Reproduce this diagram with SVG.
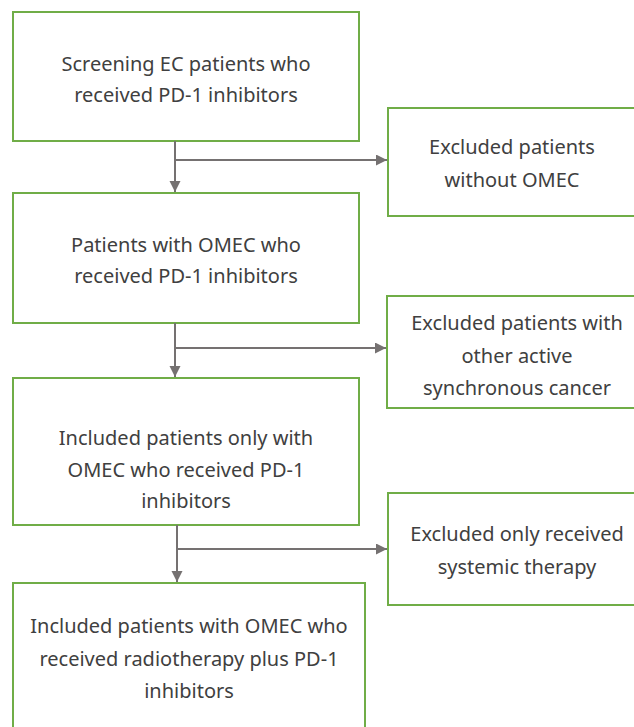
<svg xmlns="http://www.w3.org/2000/svg" width="634" height="727" viewBox="0 0 634 727">
<style>
.box{fill:#fff;stroke:#70AD47;stroke-width:2}
.t{font-family:"Noto Sans","Liberation Sans",sans-serif;font-size:20px;fill:#404040;text-anchor:middle;dominant-baseline:central}
.c{stroke:#757171;stroke-width:2;fill:none}
</style>
<defs>
<marker id="ah" markerWidth="12" markerHeight="12" refX="11" refY="5.5" orient="auto" markerUnits="userSpaceOnUse">
<path d="M0,0 L11,5.5 L0,11 Z" fill="#757171"/>
</marker>
</defs>
<rect width="634" height="727" fill="#fff"/>
<g id="n1"><rect class="box" x="13" y="12" width="346" height="129"/>
<text class="t" x="186" y="63">Screening EC patients who</text>
<text class="t" x="186" y="94">received PD-1 inhibitors</text></g>
<g id="n2"><rect class="box" x="388" y="108" width="260" height="108"/>
<text class="t" x="512" y="146">Excluded patients</text>
<text class="t" x="512" y="179">without OMEC</text></g>
<g id="n3"><rect class="box" x="13" y="193" width="346" height="130"/>
<text class="t" x="186" y="244">Patients with OMEC who</text>
<text class="t" x="186" y="275">received PD-1 inhibitors</text></g>
<g id="n4"><rect class="box" x="387" y="296" width="260" height="112"/>
<text class="t" x="517" y="322">Excluded patients with</text>
<text class="t" x="517" y="355">other active</text>
<text class="t" x="517" y="387">synchronous cancer</text></g>
<g id="n5"><rect class="box" x="13" y="378" width="346" height="147"/>
<text class="t" x="186" y="437">Included patients only with</text>
<text class="t" x="186" y="469">OMEC who received PD-1</text>
<text class="t" x="186" y="500">inhibitors</text></g>
<g id="n6"><rect class="box" x="388" y="493" width="260" height="112"/>
<text class="t" x="517" y="533">Excluded only received</text>
<text class="t" x="517" y="566">systemic therapy</text></g>
<g id="n7"><rect class="box" x="13" y="583" width="352" height="160"/>
<text class="t" x="189" y="625">Included patients with OMEC who</text>
<text class="t" x="189" y="658">received radiotherapy plus PD-1</text>
<text class="t" x="189" y="690">inhibitors</text></g>
<g id="connectors">
<path class="c" d="M175,141 V192" marker-end="url(#ah)"/>
<path class="c" d="M175,160 H387" marker-end="url(#ah)"/>
<path class="c" d="M175,323 V377" marker-end="url(#ah)"/>
<path class="c" d="M175,348 H386" marker-end="url(#ah)"/>
<path class="c" d="M177,525 V582" marker-end="url(#ah)"/>
<path class="c" d="M177,549 H387" marker-end="url(#ah)"/>
</g>
</svg>
